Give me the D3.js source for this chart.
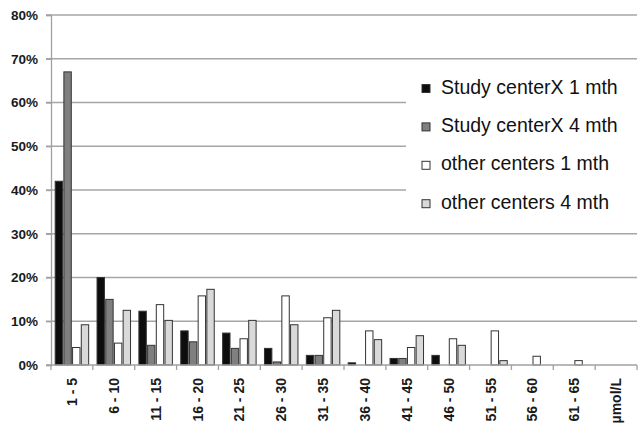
<!DOCTYPE html>
<html>
<head>
<meta charset="utf-8">
<script src="https://cdn.jsdelivr.net/npm/d3@7"></script>
<style>
  body { margin: 0; background: #fff; }
  svg { display: block; font-family: "Liberation Sans", Arial, sans-serif; }
</style>
</head>
<body>
<svg id="chart" width="638" height="429"></svg>
<script>
// Categories (µmol/L bins) and the four series, in percent
var categories = ["1 - 5", "6 - 10", "11 - 15", "16 - 20", "21 - 25", "26 - 30", "31 - 35",
                  "36 - 40", "41 - 45", "46 - 50", "51 - 55", "56 - 60", "61 - 65", "µmol/L"];
var studyX1mth = [42, 20, 12.3, 7.8, 7.3, 3.8, 2.2, 0.5, 1.5, 2.2, 0, 0, 0, 0];
var studyX4mth = [67, 15, 4.5, 5.3, 3.8, 0.7, 2.2, 0, 1.5, 0, 0, 0, 0, 0];
var other1mth  = [4, 5, 13.8, 15.8, 6, 15.8, 10.8, 7.8, 4, 6, 7.8, 2, 1, 0];
var other4mth  = [9.2, 12.5, 10.2, 17.3, 10.2, 9.2, 12.5, 5.8, 6.7, 4.5, 1, 0, 0, 0];
var seriesNames = ["Study centerX 1 mth", "Study centerX 4 mth", "other centers 1 mth", "other centers 4 mth"];
var yTicks = [0, 10, 20, 30, 40, 50, 60, 70, 80];

var colors = ["#0d0d0d", "#7f7f7f", "#ffffff", "#d9d9d9"];
var series = [studyX1mth, studyX4mth, other1mth, other4mth];

var svg = d3.select("#chart");
var margin = {top: 15, left: 51, right: 1, bottom: 64};
var width = 638 - margin.left - margin.right;
var height = 429 - margin.top - margin.bottom;

var g = svg.append("g").attr("transform", "translate(" + margin.left + "," + margin.top + ")");

var y = d3.scaleLinear().domain([0, 80]).range([height, 0]);
var x0 = d3.scaleBand().domain(categories).range([0, width]).paddingInner(0.2).paddingOuter(0.1);
var x1 = d3.scaleBand().domain(d3.range(4)).range([0, x0.bandwidth()]).paddingInner(0.15);

// Gridlines (with the little tick stub on the left)
g.selectAll("line.grid")
    .data(yTicks.slice(1))
    .enter().append("line")
    .attr("class", "grid")
    .attr("x1", -5)
    .attr("x2", width)
    .attr("y1", function(d) { return y(d); })
    .attr("y2", function(d) { return y(d); })
    .attr("stroke", "#a6a6a6")
    .attr("stroke-width", 1.3);

// Legend background hides the gridlines behind it
svg.append("rect")
    .attr("x", 406).attr("y", 64)
    .attr("width", 232).attr("height", 160)
    .attr("fill", "#fff");

// Y axis
var yAxis = d3.axisLeft(y).tickValues(yTicks).tickSize(5).tickFormat(function(d) { return d + "%"; });
var ya = g.append("g").call(yAxis);
ya.select(".domain").attr("stroke", "#a0a0a0").attr("stroke-width", 1.3);
ya.selectAll(".tick line").attr("stroke", "#a0a0a0").attr("stroke-width", 1.3);
ya.selectAll(".tick text")
    .attr("x", -13)
    .attr("font-size", 13.5)
    .attr("font-weight", "bold")
    .attr("font-family", "Liberation Sans, Arial, sans-serif")
    .attr("fill", "#1a1a1a");

// Bars
var groups = g.selectAll("g.cat")
    .data(categories)
    .enter().append("g")
    .attr("class", "cat")
    .attr("transform", function(d) { return "translate(" + x0(d) + ",0)"; });

groups.selectAll("rect")
    .data(function(d, i) {
        return series.map(function(s, k) { return {k: k, v: s[i]}; }).filter(function(e) { return e.v > 0; });
    })
    .enter().append("rect")
    .attr("x", function(d) { return x1(d.k); })
    .attr("y", function(d) { return y(d.v); })
    .attr("width", x1.bandwidth())
    .attr("height", function(d) { return height - y(d.v); })
    .attr("fill", function(d) { return colors[d.k]; })
    .attr("stroke", "#333")
    .attr("stroke-width", 1);

// X axis: baseline plus ticks at category boundaries
g.append("line")
    .attr("x1", -5).attr("x2", width)
    .attr("y1", height).attr("y2", height)
    .attr("stroke", "#a0a0a0").attr("stroke-width", 1.3);

var step = x0.step();
g.selectAll("line.xtick")
    .data(d3.range(categories.length + 1))
    .enter().append("line")
    .attr("class", "xtick")
    .attr("x1", function(i) { return i * step; })
    .attr("x2", function(i) { return i * step; })
    .attr("y1", height).attr("y2", height + 5)
    .attr("stroke", "#a0a0a0").attr("stroke-width", 1.3);

g.selectAll("text.xlab")
    .data(categories)
    .enter().append("text")
    .attr("class", "xlab")
    .attr("transform", function(d) {
        return "translate(" + (x0(d) + x0.bandwidth() / 2) + "," + (height + 13) + ") rotate(-90)";
    })
    .attr("text-anchor", "end")
    .attr("dy", "0.36em")
    .attr("font-size", 14)
    .attr("font-weight", "bold")
    .attr("fill", "#1a1a1a")
    .text(function(d) { return d; });

// Legend
var legend = svg.append("g").attr("transform", "translate(422,0)");
var rows = legend.selectAll("g")
    .data(seriesNames)
    .enter().append("g")
    .attr("transform", function(d, i) { return "translate(0," + (88.5 + i * 38.4) + ")"; });

rows.append("rect")
    .attr("x", 0).attr("y", -4)
    .attr("width", 8).attr("height", 8)
    .attr("fill", function(d, i) { return colors[i]; })
    .attr("stroke", "#333").attr("stroke-width", 1);

rows.append("text")
    .attr("x", 19)
    .attr("y", 5)
    .attr("font-size", 19.5)
    .attr("fill", "#111")
    .text(function(d) { return d; });
</script>
</body>
</html>
